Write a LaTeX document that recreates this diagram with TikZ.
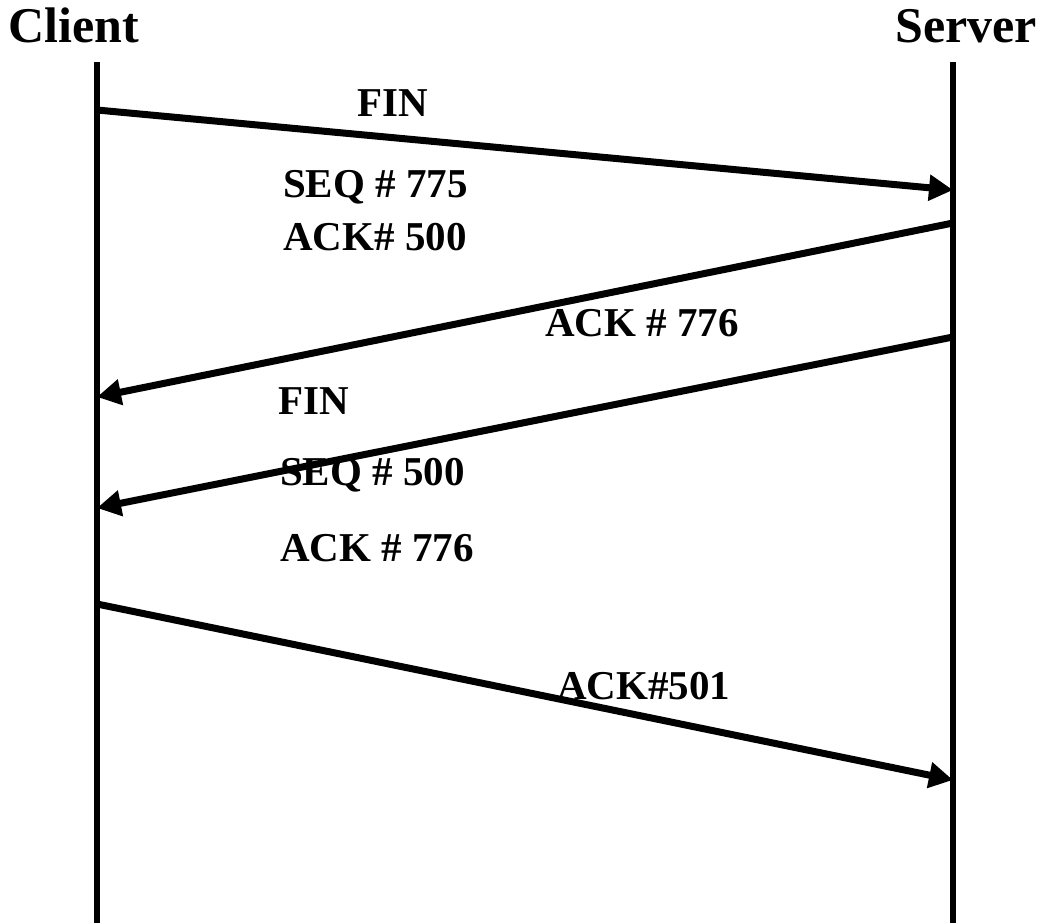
\documentclass[tikz,border=0pt]{standalone}
\usepackage{fontspec}
\setmainfont{Liberation Serif}
\usetikzlibrary{arrows.meta,positioning}

\begin{document}
\begin{tikzpicture}[
    x=1pt,y=-1pt,
    life/.style={line width=5.5pt},
    arr/.style={line width=7pt,-{Triangle[length=24pt,width=25pt]}},
    lbl/.style={anchor=base west,inner sep=0pt,font=\bfseries\fontsize{41}{48}\selectfont},
    ttl/.style={inner sep=0pt,font=\bfseries\fontsize{50}{58}\selectfont}
]
\useasboundingbox (0,0) rectangle (1042,923);

\node[ttl,anchor=base west] (C) at (8,43) {Client};
\node[ttl,anchor=base east] (S) at (1037,43) {Server};

% lifelines
\coordinate (Ct) at (97,62);  \coordinate (Cb) at (97,923);
\coordinate (St) at (953,62); \coordinate (Sb) at (953,923);
\draw[life] (Ct) -- (Cb);
\draw[life] (St) -- (Sb);

% message ends
\coordinate (C1) at (97,110);  \coordinate (S1) at (953,190);
\coordinate (S2) at (953,223); \coordinate (C2) at (97,397);
\coordinate (S3) at (953,337); \coordinate (C3) at (97,508);
\coordinate (C4) at (97,604);  \coordinate (S4) at (953,780);

\draw[arr] (C1) -- (S1);
\draw[arr] (S2) -- (C2);
\draw[arr] (S3) -- (C3);
\draw[arr] (C4) -- (S4);

\node[lbl] (fin1) at (357,117) {FIN};
\node[lbl] (seq1) at (283,197) {SEQ \# 775};
\node[lbl] (ack1) at (283,250) {ACK\# 500};
\node[lbl] (ack2) at (545,336) {ACK \# 776};
\node[lbl] (fin2) at (278,414) {FIN};
\node[lbl] (seq2) at (280,485) {SEQ \# 500};
\node[lbl] (ack3) at (280,561) {ACK \# 776};
\node[lbl] (ack4) at (557,699) {ACK\#501};
\end{tikzpicture}
\end{document}
